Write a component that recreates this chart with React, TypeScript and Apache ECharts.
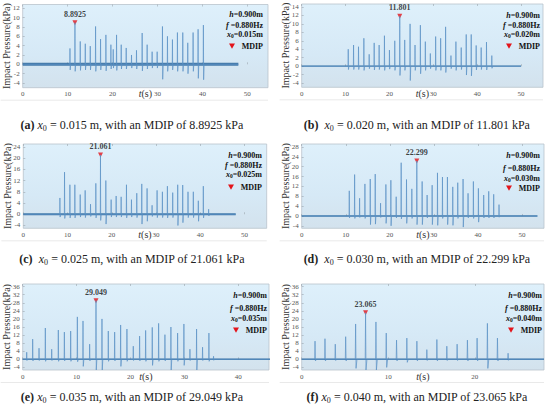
import React, { useEffect, useRef } from "react";
import * as echarts from "echarts";

// ---------- data ----------
const panelLabels = ["(a)", "(b)", "(c)", "(d)", "(e)", "(f)"];
const x0Values = ["0.015", "0.020", "0.025", "0.030", "0.035", "0.040"];
const mdipValues = ["8.8925", "11.801", "21.061", "22.299", "29.049", "23.065"];
const heightValue = "0.900";
const freqValue = "0.880";

const aTimes = [10.52, 11.63, 12.81, 13.93, 15.04, 16.22, 17.33, 18.52, 19.63, 20.15, 20.89, 21.93, 23.04, 24.22, 25.33, 26.59, 27.7, 28.81, 29.93, 31.11, 32.22, 33.33, 34.44, 35.63, 36.74, 37.93, 39.04, 40.22];
const aPeaks = [3.4, 8.8925, 4.9, 4.4, 3.9, 8.1, 5.4, 6.3, 4.2, 3.2, 6.3, 4.2, 3.5, 2.0, 3.0, 6.7, 4.2, 2.7, 2.7, 8.1, 6.0, 5.3, 6.8, 6.8, 4.6, 6.8, 7.5, 8.4];
const aDips = [-1.2, -1.5, -1.3, -1.2, -1.2, -1.5, -1.2, -1.4, -1.0, -0.8, -1.3, -1.0, -1.0, -0.8, -1.0, -1.4, -1.0, -0.8, -0.8, -3.2, -1.5, -1.2, -1.5, -1.5, -2.0, -1.5, -3.0, -3.3];

const bTimes = [10.61, 11.82, 12.95, 14.17, 15.38, 16.52, 17.65, 18.86, 20.0, 21.21, 22.35, 23.48, 24.7, 25.83, 27.05, 28.18, 29.32, 30.53, 31.67, 32.8, 34.02, 35.15, 36.36, 37.5, 38.64, 39.77, 40.91, 42.12, 43.33];
const bPeaks = [4.0, 5.0, 4.6, 6.6, 2.8, 5.5, 5.0, 7.2, 3.8, 6.0, 11.801, 6.2, 10.0, 5.0, 9.7, 5.8, 3.0, 7.0, 6.6, 9.3, 2.5, 5.8, 4.4, 7.5, 7.5, 4.9, 4.4, 5.7, 2.5];
const bDips = [-0.8, -0.8, -0.8, -1.0, -0.6, -0.9, -0.8, -1.0, -0.7, -1.0, -2.2, -1.0, -3.4, -1.0, -1.8, -1.0, -0.6, -1.0, -1.0, -1.5, -0.6, -1.0, -0.8, -2.1, -2.3, -0.9, -0.8, -0.9, -0.5];

const cTimes = [8.27, 9.32, 10.53, 11.65, 12.86, 13.98, 15.19, 16.39, 17.44, 18.65, 19.85, 20.98, 22.11, 23.31, 24.44, 25.64, 26.77, 27.97, 29.1, 30.23, 31.43, 32.56, 33.76, 34.89, 36.02, 37.22, 38.42, 39.55, 40.68, 41.88];
const cPeaks = [5.8, 15.0, 10.5, 10.5, 7.0, 8.5, 3.6, 11.0, 21.061, 12.0, 5.2, 6.5, 6.2, 10.5, 5.2, 7.5, 10.8, 9.2, 3.2, 8.5, 8.0, 10.0, 7.7, 10.5, 10.4, 8.0, 8.0, 4.8, 10.0, 1.8];
const cDips = [-1.0, -1.5, -1.3, -1.3, -1.0, -1.2, -0.8, -1.3, -2.2, -3.5, -1.0, -1.0, -1.0, -1.3, -1.0, -1.2, -3.5, -2.5, -0.8, -1.2, -1.2, -1.3, -1.2, -4.0, -3.0, -1.2, -1.2, -2.5, -1.3, -0.6];

const dTimes = [10.8, 12.01, 13.14, 14.35, 15.56, 16.69, 17.9, 19.11, 20.24, 21.45, 22.58, 23.79, 25.0, 26.13, 27.34, 28.47, 29.61, 30.82, 31.95, 33.08, 34.29, 35.42, 36.63, 37.76, 38.97, 40.11, 41.31, 42.45, 43.58, 44.79];
const dPeaks = [10.2, 16.8, 7.2, 13.0, 15.0, 17.0, 5.2, 12.8, 14.5, 7.8, 21.6, 14.8, 11.0, 22.299, 14.0, 8.5, 12.5, 17.5, 15.8, 15.8, 11.8, 13.5, 15.0, 9.2, 14.0, 11.2, 8.5, 10.0, 8.8, 4.6];
const dDips = [-0.8, -1.0, -0.6, -1.0, -3.5, -3.3, -0.6, -3.0, -4.0, -0.8, -1.2, -3.0, -1.0, -3.5, -3.5, -0.8, -3.5, -3.8, -1.0, -3.5, -3.8, -1.0, -4.5, -0.8, -1.0, -2.5, -0.8, -0.8, -0.8, -0.5];

const eTimes = [0.74, 1.85, 3.03, 4.2, 5.38, 6.61, 7.73, 8.9, 10.14, 11.19, 12.42, 13.6, 14.71, 15.88, 17.06, 18.17, 19.34, 20.52, 21.69, 22.81, 24.04, 25.22, 26.39, 27.5, 28.74, 29.91, 31.03, 32.26, 33.37, 34.55, 35.41];
const ePeaks = [3.5, 10.0, 5.5, 15.5, 5.0, 14.5, 13.5, 14.0, 21.0, 19.0, 7.5, 29.049, 20.0, 14.0, 13.5, 17.0, 15.0, 6.5, 11.5, 14.3, 15.8, 17.8, 12.2, 16.0, 13.0, 17.5, 5.0, 15.0, 6.0, 13.0, 1.5];
const eDips = [-0.6, -0.8, -0.6, -1.0, -0.6, -1.0, -0.8, -1.0, -1.2, -3.5, -0.8, -5.3, -5.3, -1.0, -0.8, -3.5, -1.0, -0.6, -0.8, -1.0, -3.0, -1.0, -0.8, -5.3, -1.0, -3.0, -0.6, -5.3, -0.6, -1.0, -0.5];

const fTimes = [1.54, 2.69, 3.88, 5.08, 6.23, 7.38, 8.58, 9.77, 10.96, 12.15, 13.31, 14.46, 15.62, 16.77, 17.96, 19.15, 20.27, 21.46, 22.62, 23.85];
const fPeaks = [9.0, 10.2, 7.5, 11.2, 17.5, 23.065, 18.5, 13.0, 9.5, 10.5, 9.0, 4.8, 9.8, 6.5, 7.5, 9.5, 10.5, 17.8, 10.5, 3.0];
const fDips = [-0.8, -0.8, -0.6, -0.8, -4.5, -5.3, -5.3, -4.0, -0.8, -1.5, -0.8, -0.6, -0.8, -0.6, -0.6, -0.8, -0.8, -4.5, -0.8, -0.5];

const recordEnds = [48, 50, 48, 53.5, 46, 28];

const xMaxes = [54.6, 55, 55, 55, 45.7, 28];
const yMins = [-5, -5, -5, -5, -5.3, -5.3];
const yMaxes = [12.8, 14.7, 25, 29.2, 37.3, 37.3];

const xTicksA = [0, 10, 20, 30, 40, 50];
const xTicksE = [0, 10, 20, 30, 40];
const xTicksF = [0, 10, 20];
const yTicksA = [-4, -2, 0, 2, 4, 6, 8, 10, 12];
const yTicksB = [-4, -2, 0, 2, 4, 6, 8, 10, 12, 14];
const yTicksC = [-4, 0, 4, 8, 12, 16, 20, 24];
const yTicksD = [-4, 0, 4, 8, 12, 16, 20, 24, 28];
const yTicksE = [-4, 0, 4, 8, 12, 16, 20, 24, 28, 32, 36];

const allTimes = [aTimes, bTimes, cTimes, dTimes, eTimes, fTimes];
const allPeaks = [aPeaks, bPeaks, cPeaks, dPeaks, ePeaks, fPeaks];
const allDips = [aDips, bDips, cDips, dDips, eDips, fDips];
const allXTicks = [xTicksA, xTicksA, xTicksA, xTicksA, xTicksE, xTicksF];
const allYTicks = [yTicksA, yTicksB, yTicksC, yTicksD, yTicksE, yTicksE];

// ---------- layout / style ----------
const SERIF = "'Liberation Serif', 'Times New Roman', serif";
const grids = [
  { left: 22.7, top: 4.5, right: 268, bottom: 87.7 },
  { left: 301.7, top: 4, right: 543, bottom: 87.3 },
  { left: 23.3, top: 144, right: 266.7, bottom: 228.3 },
  { left: 301.7, top: 144, right: 544, bottom: 228.3 },
  { left: 22.7, top: 284, right: 269, bottom: 370 },
  { left: 301.7, top: 284, right: 544, bottom: 370 },
];
const captionPos = [
  [132, 125], [417, 125], [132, 259], [417, 259], [132, 397], [417, 397],
];
const legendRight = [263, 540, 262, 540, 267, 542];
const legendRows = [
  [14, 25, 34, 46], [15, 25, 34, 46], [155, 165, 174, 187],
  [155, 168, 178, 188], [295, 308, 318, 330], [295, 308, 318, 330],
];
const baseWidths = [3, 1.4, 2, 1.4, 1.6, 1.4];

function buildTrace(times: number[], peaks: number[], dips: number[], end: number) {
  const pts: number[][] = [[0, 0]];
  times.forEach((t, i) => {
    pts.push([t - 0.04, 0], [t, peaks[i]], [t + 0.05, dips[i]], [t + 0.16, 0]);
  });
  pts.push([end, 0]);
  return pts;
}

export default function App() {
  const ref = useRef<HTMLDivElement>(null);
  useEffect(() => {
    if (!ref.current) return;
    const chart = echarts.init(ref.current, undefined, { renderer: "svg" });
    const grid: any[] = [];
    const xAxis: any[] = [];
    const yAxis: any[] = [];
    const series: any[] = [];
    const graphic: any[] = [];

    grids.forEach((g, i) => {
      grid.push({
        left: g.left,
        top: g.top,
        width: g.right - g.left,
        height: g.bottom - g.top,
        show: true,
        borderColor: "#b9c3cc",
        borderWidth: 0.8,
        backgroundColor: {
          type: "linear", x: 0, y: 0, x2: 0, y2: 1,
          colorStops: [
            { offset: 0, color: "#def0fb" },
            { offset: 0.6, color: "#d6e9f6" },
            { offset: 1, color: "#d3e2ed" },
          ],
        },
      });
      const xt = allXTicks[i];
      const tickStyle = { show: true, inside: true, length: 2, lineStyle: { color: "#9aa4ad", width: 0.6 }, customValues: xt };
      xAxis.push({
        gridIndex: i, type: "value", min: 0, max: xMaxes[i],
        axisLine: { show: false },
        axisTick: tickStyle,
        axisLabel: { fontSize: 7, color: "#555", margin: 3, fontFamily: SERIF, customValues: xt },
        splitLine: { show: false },
        name: "{i|t}(s)", nameLocation: "middle", nameGap: 1, nameMoveOverlap: false,
        nameTextStyle: {
          fontSize: 10, color: "#333", fontFamily: SERIF,
          rich: { i: { fontStyle: "italic", fontSize: 10, fontFamily: SERIF, color: "#333" } },
        },
      });
      xAxis.push({
        gridIndex: i, type: "value", min: 0, max: xMaxes[i], position: "top",
        axisLine: { show: false }, axisTick: tickStyle, axisLabel: { show: false }, splitLine: { show: false },
      });
      const yt = allYTicks[i];
      yAxis.push({
        gridIndex: i, type: "value", min: yMins[i], max: yMaxes[i],
        axisLine: { show: false },
        axisTick: { show: true, inside: true, length: 2, lineStyle: { color: "#9aa4ad", width: 0.6 }, customValues: yt },
        axisLabel: { fontSize: 7, color: "#555", margin: 3, fontFamily: SERIF, customValues: yt },
        splitLine: { show: false },
        name: "Impact Pressure(kPa)", nameLocation: "middle", nameGap: 11, nameMoveOverlap: false,
        nameTextStyle: { fontSize: 10, color: "#333", fontFamily: SERIF },
      });

      const times = allTimes[i];
      const peaks = allPeaks[i];
      const dips = allDips[i];
      series.push({
        type: "line", xAxisIndex: i * 2, yAxisIndex: i, silent: true,
        data: [[0, 0], [recordEnds[i], 0]], showSymbol: false,
        lineStyle: { color: "#2c679e", width: baseWidths[i], opacity: 0.85 },
      });
      series.push({
        type: "line", xAxisIndex: i * 2, yAxisIndex: i, silent: true,
        data: buildTrace(times, peaks, dips, recordEnds[i]), showSymbol: false,
        lineStyle: { color: "#5b92c6", width: 0.7 },
      });
      let mi = 0;
      peaks.forEach((p, k) => { if (p > peaks[mi]) mi = k; });
      series.push({
        type: "scatter", xAxisIndex: i * 2, yAxisIndex: i,
        data: [[times[mi], peaks[mi]]],
        symbol: "triangle", symbolRotate: 180, symbolSize: 5,
        itemStyle: { color: "#e3141b" },
        label: {
          show: true, position: "top", distance: 2, formatter: mdipValues[i],
          fontSize: 8, fontWeight: "bold", fontFamily: SERIF, color: "#111", textBorderWidth: 0,
        },
      });

      // caption
      const [cx, cy] = captionPos[i];
      graphic.push({
        type: "text", x: cx, y: cy,
        style: {
          text: `{b|${panelLabels[i]}}${i === 0 || i > 3 ? " " : "  "}{i|x}{s|0} = ${x0Values[i]} m, with an MDIP of ${mdipValues[i]} kPa`,
          align: "center", verticalAlign: "middle", textAlign: "center", textVerticalAlign: "middle",
          fontSize: 12, fontFamily: SERIF, fill: "#222",
          rich: {
            b: { fontWeight: "bold", fontSize: 12, fontFamily: SERIF, fill: "#222" },
            i: { fontStyle: "italic", fontSize: 12, fontFamily: SERIF, fill: "#222" },
            s: { fontSize: 8, fontFamily: SERIF, fill: "#222", padding: [6, 0, 0, 0] },
          },
        },
      });
      // legend
      const rx = legendRight[i];
      const rows = legendRows[i];
      const legendTexts = [
        `{i|h}=${heightValue}m`,
        `{i|f} =${freqValue}Hz`,
        `{i|x}{s|0}=${x0Values[i]}m`,
        "MDIP",
      ];
      legendTexts.forEach((t, k) => {
        graphic.push({
          type: "text", x: rx, y: rows[k],
          style: {
            text: t, align: "right", verticalAlign: "middle", textAlign: "right", textVerticalAlign: "middle",
            fontSize: 8, fontWeight: "bold", fontFamily: SERIF, fill: "#111",
            rich: {
              i: { fontStyle: "italic", fontWeight: "bold", fontSize: 8, fontFamily: SERIF, fill: "#111" },
              s: { fontSize: 5.5, fontWeight: "bold", fontFamily: SERIF, fill: "#111", padding: [3, 0, 0, 0] },
            },
          },
        });
      });
      const tx = rx - 31;
      const ty = rows[3];
      graphic.push({
        type: "polygon",
        shape: { points: [[tx - 3, ty - 2.5], [tx + 3, ty - 2.5], [tx, ty + 2.8]] },
        style: { fill: "#e3141b" },
      });
      // faint frame line under each panel
      graphic.push({
        type: "line",
        shape: { x1: g.left - 22, y1: g.bottom + 12.5, x2: g.right, y2: g.bottom + 12.5 },
        style: { stroke: "#e3e3e3", lineWidth: 0.8 },
      });
    });

    chart.setOption({
      animation: false,
      backgroundColor: "#ffffff",
      grid, xAxis, yAxis, series, graphic,
    });
    return () => chart.dispose();
  }, []);
  return (
    <div
      ref={ref}
      style={{ position: "fixed", left: 0, top: 0, width: 550, height: 417 }}
    />
  );
}
